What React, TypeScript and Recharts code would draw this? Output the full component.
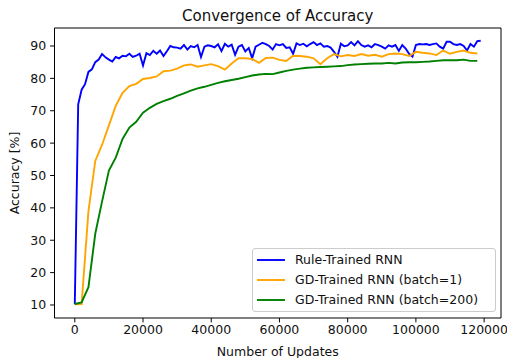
import React from 'react';
import { LineChart, Line, XAxis, YAxis, Legend } from 'recharts';

const FONT = '"DejaVu Sans", "Liberation Sans", sans-serif';
const TEXT_COLOR = '#111';

// Sampling interval (number of updates between logged points)
const RULE_STEP = 1000;
const GD_STEP = 2000;

// Accuracy [%] of the rule-trained RNN, logged every 1000 updates
const ruleAcc = [
  10.2, 72, 76.5, 78.2, 82, 82.8, 85, 85.8, 87.5, 86.5,
  85.8, 85.2, 86.6, 86.2, 87, 86.8, 87.6, 86.6, 87, 87.6,
  84, 87.8, 87.2, 88.5, 87.6, 88.6, 86.9, 88.4, 90, 89.6,
  89.5, 89.2, 90.3, 88.9, 90, 89.6, 90.3, 86.6, 89.8, 90.2,
  90, 89.6, 90.5, 88.4, 90.7, 89.8, 90.4, 87.3, 89.8, 90.3,
  88.3, 89.4, 86.2, 89.8, 90.4, 91, 90.6, 90, 88.9, 90.6,
  90.2, 90.6, 89.4, 89.6, 87.6, 90.8, 90.3, 90.7, 89.9, 90.6,
  91.2, 90.3, 90.8, 89.8, 90, 89.5, 88.2, 86.7, 90.7, 89.9,
  90.2, 91.2, 90.2, 91.5, 90.3, 89.8, 90.2, 89.6, 90.6, 90.3,
  89.8, 89.2, 90.2, 89.8, 90.3, 88.5, 90.3, 89.2, 87.6, 86.7,
  90.3, 90.6, 90.5, 90.6, 90.3, 90.6, 90.8, 89.8, 89.2, 91.3,
  91.3, 90.6, 90.3, 90.6, 90, 88.6, 90.6, 89.8, 91.5, 91.6,
];

// Accuracy [%] of the GD-trained RNN (batch=1), logged every 2000 updates
const gdBatch1Acc = [
  10.2, 10.3, 39, 54.5, 59.5, 65.5, 71.5, 75.5, 77.6, 78.3,
  79.8, 80.1, 80.6, 82.2, 82.4, 83, 84, 84.3, 83.6, 84,
  84.4, 83.8, 82.7, 84.6, 86.2, 86.2, 86, 84.8, 86.3, 86.4,
  85.7, 85.4, 87, 86.9, 86.7, 86.2, 84.4, 86.2, 87.5, 86.8,
  87.2, 86.9, 87.5, 87, 87.3, 86.7, 87.5, 87.7, 87.5, 86.9,
  88.2, 87.9, 87.7, 87.2, 88.6, 87.6, 88.2, 88.6, 87.9, 87.7,
];

// Accuracy [%] of the GD-trained RNN (batch=200), logged every 2000 updates
const gdBatch200Acc = [
  10.3, 10.8, 15.5, 32, 42, 51.5, 55.5, 61.3, 64.8, 66.6,
  69.4, 70.9, 72.1, 73, 73.7, 74.6, 75.4, 76.2, 76.9, 77.4,
  78, 78.6, 79.1, 79.5, 79.9, 80.4, 80.9, 81.2, 81.4, 81.3,
  81.8, 82.3, 82.7, 83, 83.3, 83.4, 83.5, 83.6, 83.7, 83.8,
  84.1, 84.3, 84.4, 84.5, 84.6, 84.6, 84.8, 84.6, 84.9, 85,
  85, 85.1, 85.2, 85.4, 85.6, 85.6, 85.6, 85.8, 85.4, 85.4,
];

const xTicks = [0, 20000, 40000, 60000, 80000, 100000, 120000];
const yTicks = [10, 20, 30, 40, 50, 60, 70, 80, 90];

const seriesNames = [
  'Rule-Trained RNN',
  'GD-Trained RNN (batch=1)',
  'GD-Trained RNN (batch=200)',
];
const seriesColors = ['#0000ff', '#ffa500', '#008000'];

const ruleData = ruleAcc.map((v, i) => ({ updates: i * RULE_STEP, acc: v }));
const gd1Data = gdBatch1Acc.map((v, i) => ({ updates: i * GD_STEP, acc: v }));
const gd200Data = gdBatch200Acc.map((v, i) => ({ updates: i * GD_STEP, acc: v }));

const FS = 12.5;
const X_DOMAIN = [-5950, 124950];
const Y_DOMAIN = [5.98, 95.56];

const YLabel = (props: any) => {
  const vb = props.viewBox || {};
  const cx = 14;
  const cy = (vb.y ?? 0) + (vb.height ?? 0) / 2;
  return (
    <text
      x={cx}
      y={cy}
      transform={`rotate(-90, ${cx}, ${cy})`}
      textAnchor="middle"
      dominantBaseline="central"
      fontFamily={FONT}
      fontSize={FS}
      fill={TEXT_COLOR}
    >
      Accuracy [%]
    </text>
  );
};

const LegendBox = () => (
  <div
    style={{
      boxSizing: 'border-box',
      width: 244,
      height: 64,
      border: '1px solid #cccccc',
      borderRadius: 3,
      background: 'rgba(255,255,255,0.8)',
      fontFamily: FONT,
      fontSize: FS,
      color: TEXT_COLOR,
      paddingTop: 1,
    }}
  >
    {seriesNames.map((name, i) => (
      <div key={name} style={{ display: 'flex', alignItems: 'center', height: 20, lineHeight: '20px', whiteSpace: 'nowrap' }}>
        <svg width={42} height={20} style={{ flex: 'none' }}>
          <line x1={4} x2={32} y1={10} y2={10} stroke={seriesColors[i]} strokeWidth={1.9} />
        </svg>
        <span>{name}</span>
      </div>
    ))}
  </div>
);

export default function App() {
  return (
    <div style={{ position: 'absolute', left: 0, top: 0, width: 507, height: 358, background: '#fff' }}>
      <LineChart
        width={507}
        height={358}
        margin={{ top: 27, right: 5, bottom: 0, left: 0 }}
        style={{ fontFamily: FONT }}
      >
        <XAxis
          xAxisId="bottom"
          dataKey="updates"
          type="number"
          domain={X_DOMAIN}
          ticks={xTicks}
          allowDataOverflow
          height={40}
          tickSize={4.4}
          tickMargin={3}
          interval={0}
          axisLine={{ stroke: '#000', strokeWidth: 1 }}
          tickLine={{ stroke: '#000', strokeWidth: 1 }}
          tick={{ fill: TEXT_COLOR, fontSize: FS, fontFamily: FONT }}
          label={{ value: 'Number of Updates', position: 'insideBottom', offset: 2, fill: TEXT_COLOR, fontSize: FS, fontFamily: FONT }}
        />
        <XAxis
          xAxisId="top"
          orientation="top"
          dataKey="updates"
          type="number"
          domain={X_DOMAIN}
          allowDataOverflow
          height={1}
          tick={false}
          tickLine={false}
          axisLine={{ stroke: '#000', strokeWidth: 1 }}
          label={{ value: 'Convergence of Accuracy', position: 'top', offset: 6.5, fill: TEXT_COLOR, fontSize: 15, fontFamily: FONT }}
        />
        <YAxis
          yAxisId="left"
          type="number"
          domain={Y_DOMAIN}
          ticks={yTicks}
          allowDataOverflow
          width={54.5}
          tickSize={4.4}
          tickMargin={4}
          interval={0}
          axisLine={{ stroke: '#000', strokeWidth: 1 }}
          tickLine={{ stroke: '#000', strokeWidth: 1 }}
          tick={{ fill: TEXT_COLOR, fontSize: FS, fontFamily: FONT }}
          label={<YLabel />}
        />
        <YAxis
          yAxisId="right"
          orientation="right"
          type="number"
          domain={Y_DOMAIN}
          allowDataOverflow
          width={1}
          tick={false}
          tickLine={false}
          axisLine={{ stroke: '#000', strokeWidth: 1 }}
        />
        <Line
          xAxisId="bottom"
          yAxisId="left"
          data={ruleData}
          dataKey="acc"
          name={seriesNames[0]}
          stroke={seriesColors[0]}
          strokeWidth={1.9}
          dot={false}
          activeDot={false}
          type="linear"
          isAnimationActive={false}
        />
        <Line
          xAxisId="bottom"
          yAxisId="left"
          data={gd1Data}
          dataKey="acc"
          name={seriesNames[1]}
          stroke={seriesColors[1]}
          strokeWidth={1.9}
          dot={false}
          activeDot={false}
          type="linear"
          isAnimationActive={false}
        />
        <Line
          xAxisId="bottom"
          yAxisId="left"
          data={gd200Data}
          dataKey="acc"
          name={seriesNames[2]}
          stroke={seriesColors[2]}
          strokeWidth={1.9}
          dot={false}
          activeDot={false}
          type="linear"
          isAnimationActive={false}
        />
        <Legend
          layout="vertical"
          align="center"
          verticalAlign="middle"
          content={<LegendBox />}
          wrapperStyle={{ position: 'absolute', left: 252, top: 248, width: 244, height: 64, margin: 0 }}
        />
      </LineChart>
    </div>
  );
}
